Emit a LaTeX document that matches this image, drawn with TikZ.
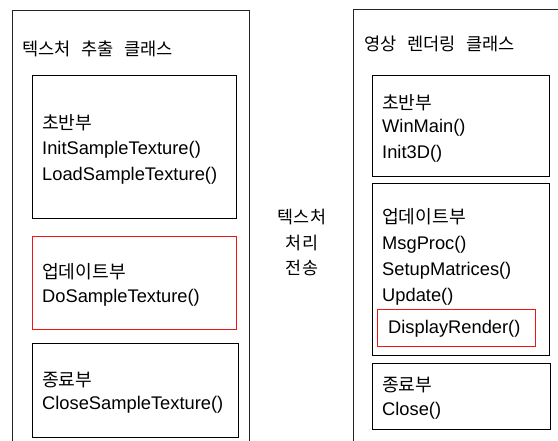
\documentclass[tikz,border=0pt]{standalone}
\usepackage{fontspec}
\setmainfont{Liberation Sans}
\newfontfamily\kr{Noto Sans CJK KR}
\newcommand{\ksp}{\hspace{0.6em}}
\definecolor{hotred}{RGB}{240,20,20}
\begin{document}
\begin{tikzpicture}[x=1pt,y=-1pt,
  frame/.style={draw=black!85,line width=1pt},
  part/.style={draw=black,line width=1pt},
  hot/.style={draw=hotred,line width=1pt},
  txt/.style={anchor=west,inner sep=0pt,font=\fontsize{18.3}{20}\selectfont},
  krtxt/.style={anchor=west,inner sep=0pt,font=\kr\fontsize{18.2}{20}\selectfont},
  ttl/.style={anchor=west,inner sep=0pt,font=\kr\fontsize{17.6}{20}\selectfont},
  mid/.style={anchor=center,inner sep=0pt,font=\kr\fontsize{17.4}{20}\selectfont}]
\useasboundingbox (0,0) rectangle (558,441);
% left class
\draw[frame] (12.5,441) -- (12.5,10.5) -- (249.5,10.5) -- (249.5,441);
\node[ttl] (ltitle) at (22,49) {텍스처\ksp 추출\ksp 클래스};
\draw[part] (32.5,75.5) rectangle (236.5,218.5);
\node[krtxt] (l1a) at (42,123) {초반부};
\node[txt] (l1b) at (42,150) {InitSampleTexture()};
\node[txt] (l1c) at (42,176) {LoadSampleTexture()};
\draw[hot] (32.5,236.5) rectangle (236.5,329.5);
\node[krtxt] (l2a) at (42,272) {업데이트부};
\node[txt] (l2b) at (42,298) {DoSampleTexture()};
\draw[part] (32.5,343.5) rectangle (238.5,437.5);
\node[krtxt] (l3a) at (42,380) {종료부};
\node[txt] (l3b) at (42,405) {CloseSampleTexture()};
% middle
\node[mid] (m1) at (302,217) {텍스처};
\node[mid] (m2) at (302,243) {처리};
\node[mid] (m3) at (302,268) {전송};
% right class
\draw[frame] (353.5,441) -- (353.5,9.5) -- (558,9.5);
\node[ttl] (rtitle) at (364,44) {영상\ksp 렌더링\ksp 클래스};
\draw[part] (372.5,75.5) rectangle (549.5,176.5);
\node[krtxt] (r1a) at (382,103) {초반부};
\node[txt] (r1b) at (382,128) {WinMain()};
\node[txt] (r1c) at (382,154) {Init3D()};
\draw[part] (372.5,183.5) rectangle (549.5,355.5);
\node[krtxt] (r2a) at (382,217) {업데이트부};
\node[txt] (r2b) at (382,245) {MsgProc()};
\node[txt] (r2c) at (382,271) {SetupMatrices()};
\node[txt] (r2d) at (382,297) {Update()};
\draw[hot] (377.5,309.5) rectangle (535.5,346.5);
\node[txt] (r2e) at (388,329) {DisplayRender()};
\draw[part] (372.5,363.5) rectangle (550.5,429.5);
\node[krtxt] (r3a) at (382,385) {종료부};
\node[txt] (r3b) at (382,411) {Close()};
\end{tikzpicture}
\end{document}
